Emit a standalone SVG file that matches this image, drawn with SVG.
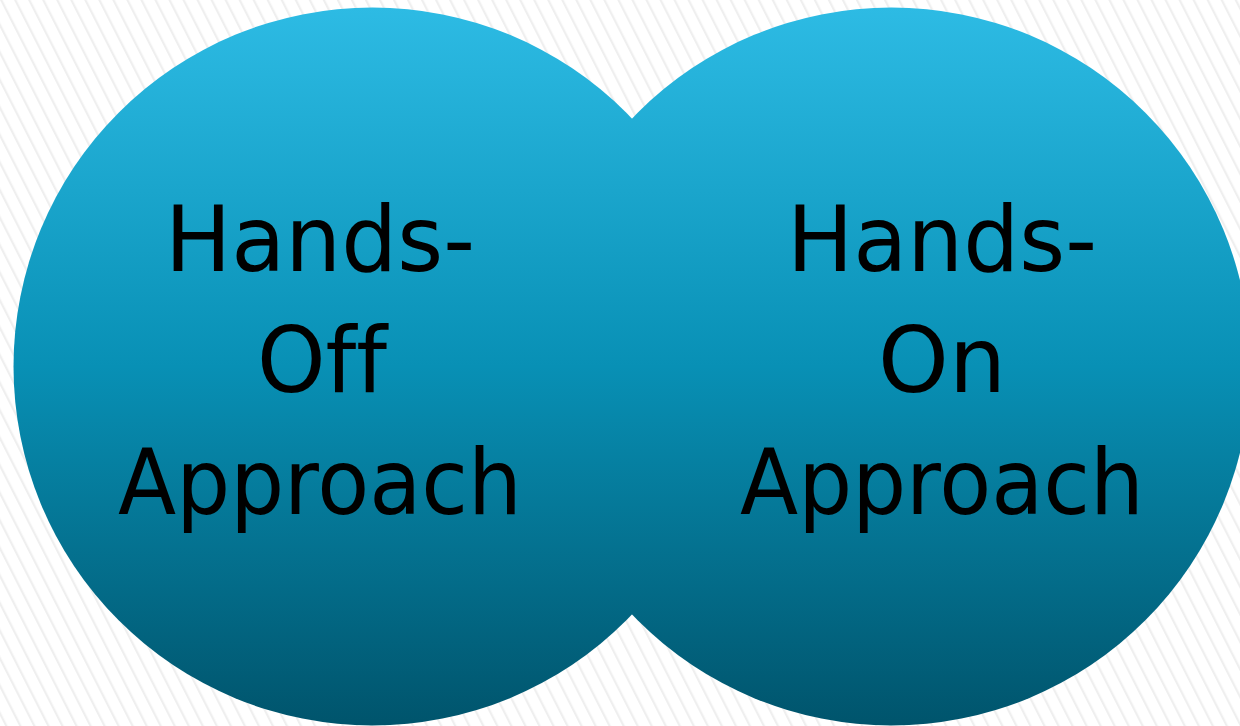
<svg xmlns="http://www.w3.org/2000/svg" width="1240" height="726" viewBox="0 0 1240 726">
  <defs>
    <pattern id="stripes" patternUnits="userSpaceOnUse" width="12.5" height="20" patternTransform="rotate(-27)">
      <rect x="0" y="0" width="12.5" height="20" fill="#ffffff"/>
      <rect x="0" y="0" width="2.2" height="20" fill="#efefef"/>
    </pattern>
    <linearGradient id="blue" x1="0" y1="0" x2="0" y2="1">
      <stop offset="0" stop-color="#2dbbe4"/>
      <stop offset="0.5" stop-color="#0890b5"/>
      <stop offset="1" stop-color="#00546c"/>
    </linearGradient>
    <style>
      .circ { fill: url(#blue); }
      .lbl { font-family: "DejaVu Sans", "Liberation Sans", sans-serif; font-size: 90px; fill: #000000; text-anchor: middle; font-variant-ligatures: none; }
    </style>
  </defs>
  <rect x="0" y="0" width="1240" height="726" fill="url(#stripes)"/>
  <g id="node-hands-off">
    <circle class="circ" cx="372.5" cy="366.5" r="359"/>
  </g>
  <g id="node-hands-on">
    <circle class="circ" cx="891.5" cy="366.5" r="359"/>
  </g>
  <g id="labels">
    <text class="lbl" x="320" y="271" textLength="310" lengthAdjust="spacingAndGlyphs">Hands-</text>
    <text class="lbl" x="322" y="392" textLength="130" lengthAdjust="spacingAndGlyphs">Off</text>
    <text class="lbl" x="320" y="514" textLength="404" lengthAdjust="spacingAndGlyphs">Approach</text>
    <text class="lbl" x="942" y="271" textLength="310" lengthAdjust="spacingAndGlyphs">Hands-</text>
    <text class="lbl" x="942" y="392">On</text>
    <text class="lbl" x="942" y="514" textLength="404" lengthAdjust="spacingAndGlyphs">Approach</text>
  </g>
  <g id="connectors"></g>
</svg>
